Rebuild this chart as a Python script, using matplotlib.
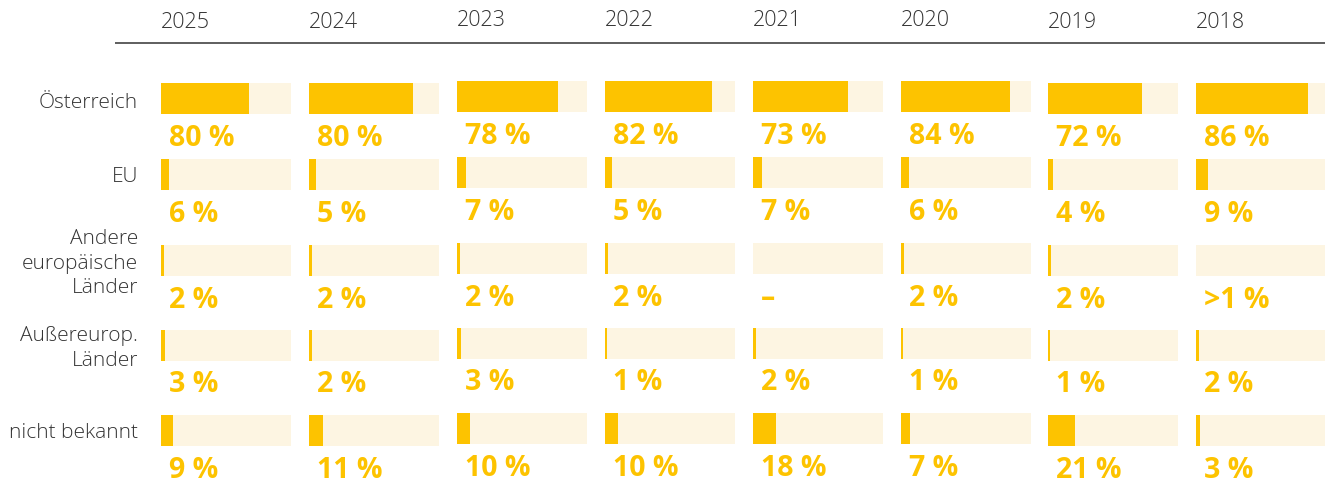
import matplotlib
matplotlib.use('Agg')
import matplotlib.pyplot as plt

# data
years = ['2025', '2024', '2023', '2022', '2021', '2020', '2019', '2018']
categories = ['Österreich', 'EU', 'Andere\neuropäische\nLänder', 'Außereurop.\nLänder', 'nicht bekannt']

# bar lengths as drawn (percent)
oesterreich = [68, 80, 78, 82, 73, 84, 72, 86]
eu = [6, 5, 7, 5, 7, 6, 4, 9]
andere_europa = [2, 2, 2, 2, 0, 2, 2, 0]
aussereuropa = [3, 2, 3, 1, 2, 1, 1, 2]
nicht_bekannt = [9, 11, 10, 10, 18, 7, 21, 3]

# printed labels
lbl_oesterreich = ['80 %', '80 %', '78 %', '82 %', '73 %', '84 %', '72 %', '86 %']
lbl_eu = ['6 %', '5 %', '7 %', '5 %', '7 %', '6 %', '4 %', '9 %']
lbl_andere = ['2 %', '2 %', '2 %', '2 %', '–', '2 %', '2 %', '>1 %']
lbl_ausser = ['3 %', '2 %', '3 %', '1 %', '2 %', '1 %', '1 %', '2 %']
lbl_nicht = ['9 %', '11 %', '10 %', '10 %', '18 %', '7 %', '21 %', '3 %']

values = [oesterreich, eu, andere_europa, aussereuropa, nicht_bekannt]
labels = [lbl_oesterreich, lbl_eu, lbl_andere, lbl_ausser, lbl_nicht]

YELLOW = '#FDC300'
BG = '#FDF5E2'
DARK = '#333333'

# layout (pixels)
col_left = [161, 309, 457, 605, 753, 901, 1048, 1196]
col_shift = [0, 0, -2, -2, -2, -2, 0, 0]
row_top = [83, 159, 245, 330, 415]
label_shift = [5, 3, 3, 3, 2]
bar_w = 130
bar_h = 31

plt.rcParams['font.family'] = ['Open Sans', 'DejaVu Sans']

fig = plt.figure(figsize=(13.25, 4.84), dpi=100)
ax = fig.add_axes([0, 0, 1, 1])
ax.set_xlim(0, 1325)
ax.set_ylim(484, 0)
ax.axis('off')

# header
ax.plot([115, 1325], [43, 43], color=DARK, lw=1.1, solid_capstyle='butt')
for c, yr in enumerate(years):
    ax.text(col_left[c], 22 + col_shift[c], yr, fontsize=15.5, fontweight='light',
            color=DARK, ha='left', va='center')

for r, cat in enumerate(categories):
    yc = row_top[r] + bar_h / 2
    ax.text(138, yc + label_shift[r], cat, fontsize=15, fontweight='light', color=DARK,
            ha='right', va='center', multialignment='right', linespacing=1.3)
    for c in range(len(years)):
        top = row_top[r] + col_shift[c]
        ax.barh(top + bar_h / 2, bar_w, height=bar_h, left=col_left[c],
                color=BG, linewidth=0)
        w = values[r][c] / 100 * bar_w
        if 0 < w < 2:
            w = 2
        ax.barh(top + bar_h / 2, w, height=bar_h,
                left=col_left[c], color=YELLOW, linewidth=0)
        ax.text(col_left[c] + 8, top + bar_h + 24, labels[r][c], fontsize=20.5,
                fontweight='bold', color=YELLOW, ha='left', va='center')

fig.savefig('out.png', dpi=100)
